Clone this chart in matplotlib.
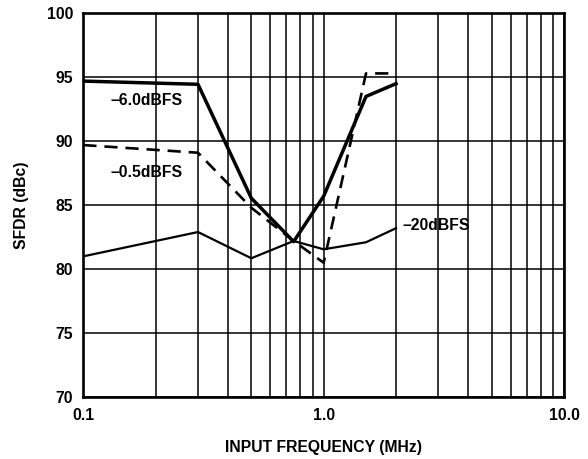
import matplotlib
matplotlib.use("Agg")
import matplotlib.pyplot as plt
from matplotlib.ticker import FixedLocator, NullFormatter

plt.rcParams['font.family'] = ['Liberation Sans', 'DejaVu Sans']
plt.rcParams['font.weight'] = 'bold'

# data
freq = [0.1, 0.3, 0.5, 0.75, 1.0, 1.5, 2.0]
sfdr_6dbfs = [94.7, 94.45, 85.55, 82.15, 85.7, 93.5, 94.5]
sfdr_05dbfs = [89.7, 89.1, 84.8, 82.2, 80.5, 95.3, 95.3]
sfdr_20dbfs = [81.0, 82.9, 80.85, 82.2, 81.55, 82.1, 83.2]

yticks = [70, 75, 80, 85, 90, 95, 100]
xticks = [0.1, 1.0, 10.0]
xticklabels = ["0.1", "1.0", "10.0"]

fig = plt.figure(figsize=(5.88, 4.59), dpi=100)
ax = fig.add_axes([0.1417, 0.135, 0.8175, 0.836])

ax.set_xscale("log")
ax.set_xlim(0.1, 10)
ax.set_ylim(70, 100)

# grid: every log minor/major line, every 5 dB
minor = [m * d for d in (0.1, 1.0) for m in range(2, 10)]
ax.xaxis.set_minor_locator(FixedLocator(minor))
ax.xaxis.set_minor_formatter(NullFormatter())
ax.set_xticks(xticks)
ax.set_xticklabels(xticklabels)
ax.set_yticks(yticks)
ax.grid(True, which="both", axis="x", color="black", lw=1.1)
ax.grid(True, which="major", axis="y", color="black", lw=1.1)
ax.tick_params(which="both", length=0, labelsize=11.3)
ax.tick_params(axis="x", pad=8)
ax.tick_params(axis="y", pad=7.5)
for s in ax.spines.values():
    s.set_linewidth(1.9)

ax.plot(freq, sfdr_6dbfs, color="black", lw=2.5, zorder=3)
ax.plot(freq, sfdr_05dbfs, color="black", lw=1.9, dashes=(5, 3), zorder=3)
ax.plot(freq, sfdr_20dbfs, color="black", lw=1.6, zorder=3)

ax.text(0.1295, 93.2, "–6.0dBFS", fontsize=11.3, fontweight="bold", ha="left", va="center")
ax.text(0.13, 87.55, "–0.5dBFS", fontsize=11.3, fontweight="bold", ha="left", va="center")
ax.text(2.12, 83.4, "–20dBFS", fontsize=11.3, fontweight="bold", ha="left", va="center")

ax.set_xlabel("INPUT FREQUENCY (MHz)", fontsize=11.3, fontweight="bold")
ax.set_ylabel("SFDR (dBc)", fontsize=11.3, fontweight="bold")
ax.xaxis.set_label_coords(0.5, -0.112)
ax.yaxis.set_label_coords(-0.113, 0.5)

fig.savefig("out.png", dpi=100)
